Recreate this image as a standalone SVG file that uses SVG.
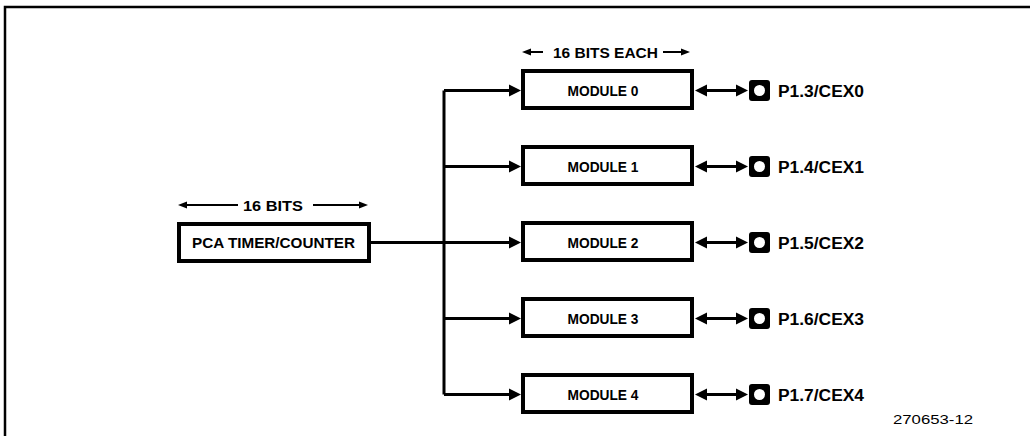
<svg xmlns="http://www.w3.org/2000/svg" width="1030" height="436" viewBox="0 0 1030 436">
<defs>
<style>
.box{fill:#fff;stroke:#000;stroke-width:4;}
.ln{fill:none;stroke:#000;stroke-width:3;}
.thin{fill:none;stroke:#000;stroke-width:2;}
.t{font-family:"Liberation Sans",Arial,sans-serif;font-weight:bold;font-size:15px;fill:#000;text-anchor:middle;}
.pl{font-family:"Liberation Sans",Arial,sans-serif;font-weight:bold;font-size:16px;fill:#000;}
.fig{font-family:"Liberation Sans",Arial,sans-serif;font-size:13px;fill:#000;}
.ah{fill:#000;}
</style>
<polygon id="headR" points="0,0 -12,-6 -12,6" class="ah"/>
<polygon id="headL" points="0,0 12,-6 12,6" class="ah"/>
<polygon id="smR" points="0,0 -9,-3.5 -9,3.5" class="ah"/>
<polygon id="smL" points="0,0 9,-3.5 9,3.5" class="ah"/>
<g id="pin">
<rect x="-10.5" y="-10.5" width="21" height="21" rx="3" fill="#000"/>
<circle cx="0" cy="0" r="5.5" fill="#fff"/>
</g>
</defs>
<rect width="1030" height="436" fill="#fff"/>
<path d="M5,436 V7 H1030" fill="none" stroke="#000" stroke-width="2.5"/>

<g id="connectors">
<line class="ln" x1="371" y1="242.5" x2="510" y2="242.5"/>
<line class="ln" x1="444" y1="90.5" x2="444" y2="394.5"/>
<line class="ln" x1="444" y1="90.5" x2="510" y2="90.5"/>
<line class="ln" x1="444" y1="166.5" x2="510" y2="166.5"/>
<line class="ln" x1="444" y1="318.5" x2="510" y2="318.5"/>
<line class="ln" x1="444" y1="394.5" x2="510" y2="394.5"/>
<use href="#headR" x="521" y="90.5"/>
<use href="#headR" x="521" y="166.5"/>
<use href="#headR" x="521" y="242.5"/>
<use href="#headR" x="521" y="318.5"/>
<use href="#headR" x="521" y="394.5"/>
<g>
<line class="ln" x1="705" y1="90.5" x2="738" y2="90.5"/>
<use href="#headL" x="695" y="90.5"/><use href="#headR" x="748" y="90.5"/>
<line class="ln" x1="705" y1="166.5" x2="738" y2="166.5"/>
<use href="#headL" x="695" y="166.5"/><use href="#headR" x="748" y="166.5"/>
<line class="ln" x1="705" y1="242.5" x2="738" y2="242.5"/>
<use href="#headL" x="695" y="242.5"/><use href="#headR" x="748" y="242.5"/>
<line class="ln" x1="705" y1="318.5" x2="738" y2="318.5"/>
<use href="#headL" x="695" y="318.5"/><use href="#headR" x="748" y="318.5"/>
<line class="ln" x1="705" y1="394.5" x2="738" y2="394.5"/>
<use href="#headL" x="695" y="394.5"/><use href="#headR" x="748" y="394.5"/>
</g>
<g id="dim16">
<line class="thin" x1="184" y1="205" x2="238" y2="205"/>
<use href="#smL" x="178" y="205"/>
<line class="thin" x1="313" y1="205" x2="362" y2="205"/>
<use href="#smR" x="368" y="205"/>
<text class="t" x="273" y="210.5" textLength="60" lengthAdjust="spacingAndGlyphs">16 BITS</text>
</g>
<g id="dimEach">
<line class="thin" x1="528" y1="52" x2="543" y2="52"/>
<use href="#smL" x="522" y="52"/>
<line class="thin" x1="663" y1="52" x2="684" y2="52"/>
<use href="#smR" x="690" y="52"/>
<text class="t" x="605.5" y="57.5" textLength="105" lengthAdjust="spacingAndGlyphs">16 BITS EACH</text>
</g>
</g>

<g id="pca">
<rect class="box" x="179" y="224" width="190" height="37"/>
<text class="t" x="273.5" y="248" textLength="163" lengthAdjust="spacingAndGlyphs">PCA TIMER/COUNTER</text>
</g>

<g id="module0">
<rect class="box" x="523" y="71" width="169" height="37"/>
<text class="t" x="603" y="96" textLength="71" lengthAdjust="spacingAndGlyphs">MODULE 0</text>
</g>
<g id="module1">
<rect class="box" x="523" y="147" width="169" height="37"/>
<text class="t" x="603" y="172" textLength="71" lengthAdjust="spacingAndGlyphs">MODULE 1</text>
</g>
<g id="module2">
<rect class="box" x="523" y="223" width="169" height="37"/>
<text class="t" x="603" y="248" textLength="71" lengthAdjust="spacingAndGlyphs">MODULE 2</text>
</g>
<g id="module3">
<rect class="box" x="523" y="299" width="169" height="37"/>
<text class="t" x="603" y="324" textLength="71" lengthAdjust="spacingAndGlyphs">MODULE 3</text>
</g>
<g id="module4">
<rect class="box" x="523" y="375" width="169" height="37"/>
<text class="t" x="603" y="400" textLength="71" lengthAdjust="spacingAndGlyphs">MODULE 4</text>
</g>

<g id="pin0"><use href="#pin" x="759.5" y="90.5"/><text class="pl" x="778" y="96.5" textLength="86" lengthAdjust="spacingAndGlyphs">P1.3/CEX0</text></g>
<g id="pin1"><use href="#pin" x="759.5" y="166.5"/><text class="pl" x="778" y="172.5" textLength="86" lengthAdjust="spacingAndGlyphs">P1.4/CEX1</text></g>
<g id="pin2"><use href="#pin" x="759.5" y="242.5"/><text class="pl" x="778" y="248.5" textLength="86" lengthAdjust="spacingAndGlyphs">P1.5/CEX2</text></g>
<g id="pin3"><use href="#pin" x="759.5" y="318.5"/><text class="pl" x="778" y="324.5" textLength="86" lengthAdjust="spacingAndGlyphs">P1.6/CEX3</text></g>
<g id="pin4"><use href="#pin" x="759.5" y="394.5"/><text class="pl" x="778" y="400.5" textLength="86" lengthAdjust="spacingAndGlyphs">P1.7/CEX4</text></g>

<text class="fig" x="893" y="424" textLength="80" lengthAdjust="spacingAndGlyphs">270653-12</text>
</svg>
